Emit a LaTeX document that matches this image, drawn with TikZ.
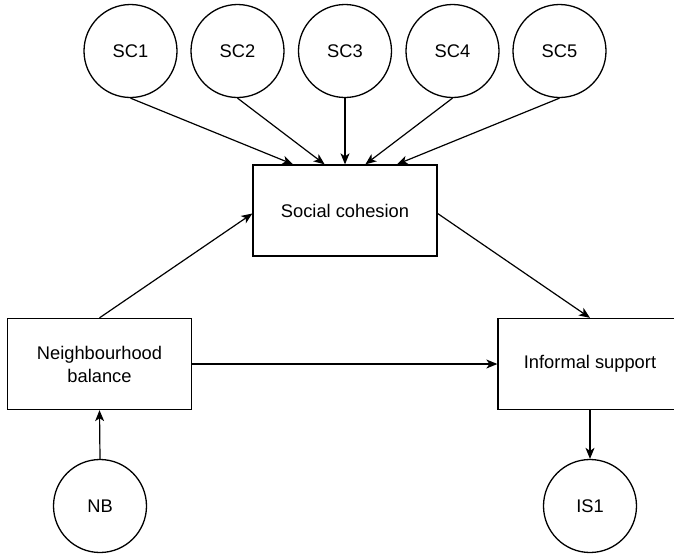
\documentclass[tikz,border=0pt]{standalone}
\usepackage{fontspec}
\setmainfont{Liberation Sans}
\usetikzlibrary{arrows.meta,calc}
\begin{document}
\begin{tikzpicture}[x=1pt,y=-1pt,
  line width=1.3pt,
  var/.style={draw, circle, minimum size=93pt, inner sep=0pt,
    font=\fontsize{18.3}{23}\selectfont},
  box/.style={draw, rectangle, minimum width=184pt, minimum height=91pt,
    inner sep=0pt, align=center, font=\fontsize{18.3}{23}\selectfont},
  link/.style={-{Stealth[length=11pt,width=9pt,inset=3pt]}, line width=1.2pt}]
\useasboundingbox (0,0) rectangle (674,555);

% indicator circles
\node[var] (sc1) at (130.5,51) {SC1};
\node[var] (sc2) at (237.5,51) {SC2};
\node[var] (sc3) at (345,51) {SC3};
\node[var] (sc4) at (452.5,51) {SC4};
\node[var] (sc5) at (559.5,51) {SC5};
\node[var] (nb)  at (100,506) {NB};
\node[var] (is1) at (590,506) {IS1};

% constructs
\node[box] (sc)  at (345,210.5) {Social cohesion};
\node[box] (nbb) at (99.5,364) {Neighbourhood\\balance};
\node[box] (isb) at (590,364) {Informal support};

% indicators of social cohesion
\draw[link] (sc1.south) -- ($(sc.north west)!0.22!(sc.north east)$);
\draw[link] (sc2.south) -- ($(sc.north west)!0.39!(sc.north east)$);
\draw[link] (sc3.south) -- (sc.north);
\draw[link] (sc4.south) -- ($(sc.north west)!0.61!(sc.north east)$);
\draw[link] (sc5.south) -- ($(sc.north west)!0.78!(sc.north east)$);

% structural paths
\draw[link] (nbb.north) -- ($(sc.west)+(0,3)$);
\draw[link] ($(sc.east)+(0,3)$) -- (isb.north);
\draw[link] (nbb.east) -- (isb.west);
\draw[link] (nb.north) -- (nbb.south);
\draw[link] (isb.south) -- (is1.north);
\end{tikzpicture}
\end{document}
